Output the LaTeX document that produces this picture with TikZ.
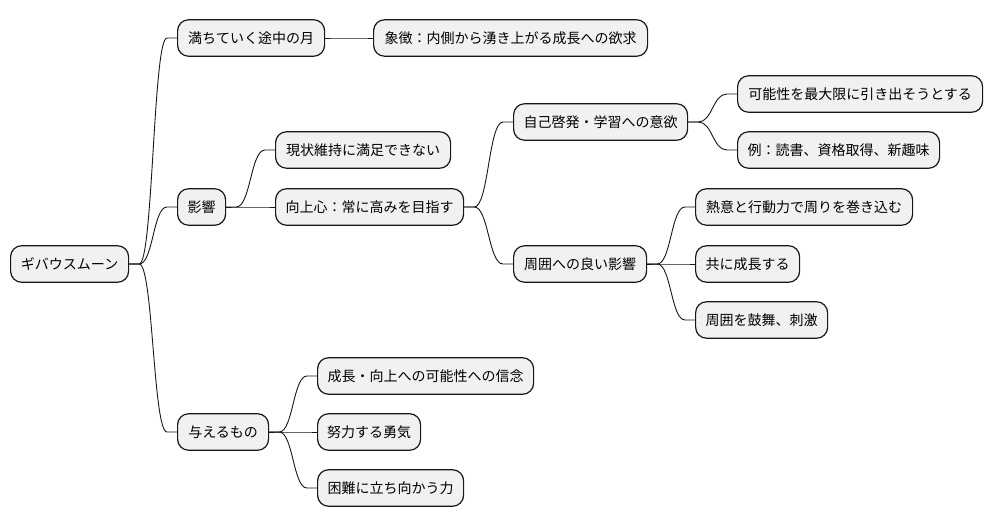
\documentclass[tikz,border=0pt]{standalone}
\usepackage{fontspec}
\newfontfamily\jp{Noto Sans CJK JP}
\usetikzlibrary{calc}
\definecolor{boxfill}{HTML}{F1F1F1}
\definecolor{boxline}{HTML}{181818}
\tikzset{
  box/.style={draw=boxline, fill=boxfill, line width=1.2pt, rounded corners=11pt,
    minimum height=36.5pt, inner xsep=0pt, inner ysep=0pt, anchor=west,
    font=\jp\fontsize{14pt}{16pt}\selectfont, text=black},
  link/.style={draw=boxline, line width=0.9pt}
}
\newcommand{\branch}[2]{%
  \draw[link] let \p1=(#1.east), \p2=(#2.west) in
    (\p1) -- (\x1+10pt,\y1) .. controls ({(\x1+\x2)/2},\y1) and ({(\x1+\x2)/2},\y2) ..
    (\x2-10pt,\y2) -- (\p2);}
\begin{document}
\begin{tikzpicture}[x=1pt,y=-1pt]
\useasboundingbox[fill=white] (0,0) rectangle (992,527);
\node[box, minimum width=118pt] (root) at (10,264) {ギバウスムーン};
\node[box, minimum width=147pt] (moon) at (177,38) {満ちていく途中の月};
\node[box, minimum width=274pt] (sym) at (373,38) {象徴：内側から湧き上がる成長への欲求};
\node[box, minimum width=48pt] (eik) at (177,207) {影響};
\node[box, minimum width=175pt] (gen) at (275,150) {現状維持に満足できない};
\node[box, minimum width=188pt] (kou) at (275,207) {向上心：常に高みを目指す};
\node[box, minimum width=174pt] (jik) at (513,122) {自己啓発・学習への意欲};
\node[box, minimum width=245pt] (kan) at (737,94) {可能性を最大限に引き出そうとする};
\node[box, minimum width=202pt] (rei) at (737,150) {例：読書、資格取得、新趣味};
\node[box, minimum width=133pt] (shu) at (513,264) {周囲への良い影響};
\node[box, minimum width=217pt] (net) at (695,207) {熱意と行動力で周りを巻き込む};
\node[box, minimum width=104pt] (tom) at (695,264) {共に成長する};
\node[box, minimum width=132pt] (kob) at (695,320) {周囲を鼓舞、刺激};
\node[box, minimum width=91pt] (ata) at (177,432) {与えるもの};
\node[box, minimum width=216pt] (sei) at (317,376) {成長・向上への可能性への信念};
\node[box, minimum width=103pt] (dor) at (317,432) {努力する勇気};
\node[box, minimum width=146pt] (kon) at (317,488) {困難に立ち向かう力};
\branch{root}{moon}
\branch{moon}{sym}
\branch{root}{eik}
\branch{eik}{gen}
\branch{eik}{kou}
\branch{kou}{jik}
\branch{jik}{kan}
\branch{jik}{rei}
\branch{kou}{shu}
\branch{shu}{net}
\branch{shu}{tom}
\branch{shu}{kob}
\branch{root}{ata}
\branch{ata}{sei}
\branch{ata}{dor}
\branch{ata}{kon}
\end{tikzpicture}
\end{document}
